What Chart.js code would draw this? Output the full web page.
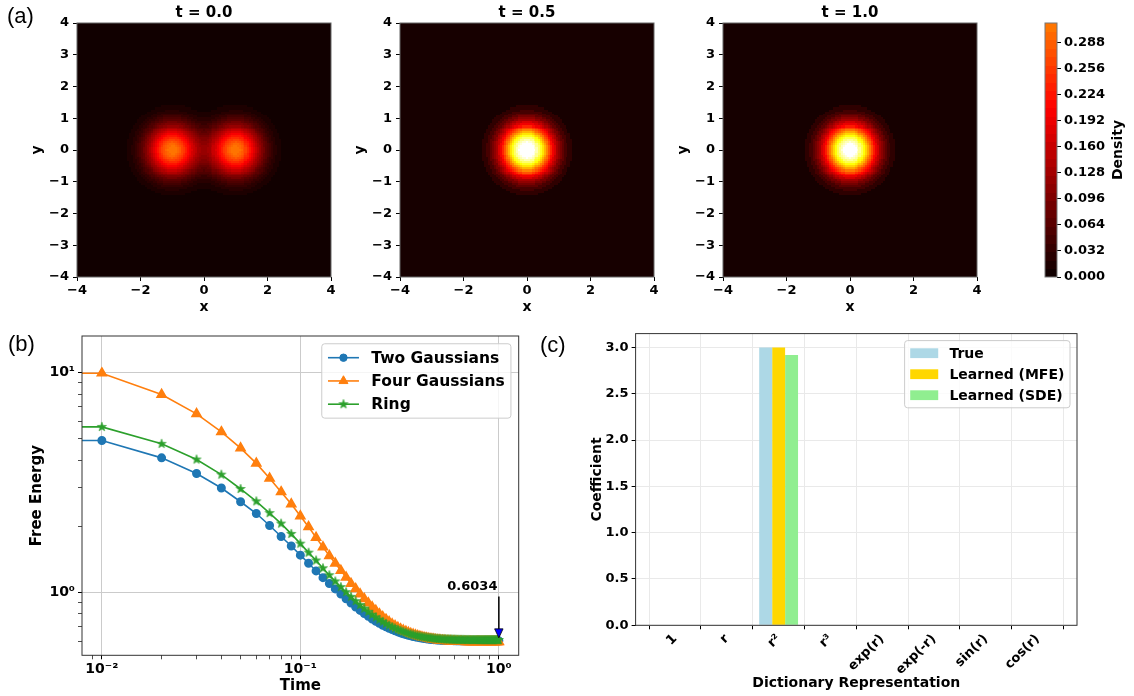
<!DOCTYPE html>
<html>
<head>
<meta charset="utf-8">
<script src="https://cdn.jsdelivr.net/npm/chart.js@4.4.1/dist/chart.umd.min.js"></script>
<style>
  body{margin:0;background:#fff;}
  #fig{position:relative;width:1134px;height:696px;overflow:hidden;background:#fff;}
  #fig canvas{position:absolute;}
  .tag{position:absolute;font:22px "Liberation Sans",Arial,sans-serif;line-height:22px;color:#000;}
</style>
</head>
<body>
<div id="fig">
  <canvas id="heat0" width="343" height="320" style="left:0;top:0"></canvas>
  <canvas id="heat1" width="343" height="320" style="left:323px;top:0"></canvas>
  <canvas id="heat2" width="343" height="320" style="left:646px;top:0"></canvas>
  <canvas id="cbar" width="94" height="320" style="left:1040px;top:0"></canvas>
  <canvas id="energy" width="540" height="376" style="left:0;top:320px"></canvas>
  <canvas id="coef" width="574" height="376" style="left:560px;top:320px"></canvas>
  <div class="tag" style="left:7px;top:5px">(a)</div>
  <div class="tag" style="left:8px;top:333px">(b)</div>
  <div class="tag" style="left:540px;top:334px">(c)</div>
</div>
<script>
// ====== (a) density snapshots ======
// blobs: [cx, cy, sigma, peak density]
const snapshotTitles = ['t = 0.0', 't = 0.5', 't = 1.0'];
const blobsT00 = [[-1, 0, 0.55, 0.312], [1, 0, 0.55, 0.312]];
const blobsT05 = [[0, 0, 0.55, 0.62]];
const blobsT10 = [[0, 0, 0.55, 0.60]];
const heatXTicks = [-4, -2, 0, 2, 4];
const heatYTicks = [-4, -3, -2, -1, 0, 1, 2, 3, 4];
const contourLevels = 30;
const colourTop = 0.57;          // density shown as white
const colorbarMax = 0.3126;
const colorbarTicks = [0, 0.032, 0.064, 0.096, 0.128, 0.160, 0.192, 0.224, 0.256, 0.288];

// ====== (b) free energy ======
const times = [
  0.00, 0.01, 0.02, 0.03, 0.04, 0.05, 0.06, 0.07, 0.08, 0.09,
  0.10, 0.11, 0.12, 0.13, 0.14, 0.15, 0.16, 0.17, 0.18, 0.19,
  0.20, 0.21, 0.22, 0.23, 0.24, 0.25, 0.26, 0.27, 0.28, 0.29,
  0.30, 0.31, 0.32, 0.33, 0.34, 0.35, 0.36, 0.37, 0.38, 0.39,
  0.40, 0.41, 0.42, 0.43, 0.44, 0.45, 0.46, 0.47, 0.48, 0.49,
  0.50, 0.51, 0.52, 0.53, 0.54, 0.55, 0.56, 0.57, 0.58, 0.59,
  0.60, 0.61, 0.62, 0.63, 0.64, 0.65, 0.66, 0.67, 0.68, 0.69,
  0.70, 0.71, 0.72, 0.73, 0.74, 0.75, 0.76, 0.77, 0.78, 0.79,
  0.80, 0.81, 0.82, 0.83, 0.84, 0.85, 0.86, 0.87, 0.88, 0.89,
  0.90, 0.91, 0.92, 0.93, 0.94, 0.95, 0.96, 0.97, 0.98, 0.99,
  1.00
];
const twoGaussians = [
  4.92, 4.92, 4.10, 3.48, 2.99, 2.59, 2.29, 2.02, 1.80, 1.63,
  1.48, 1.36, 1.255, 1.17, 1.10, 1.04, 0.985, 0.937, 0.896, 0.86,
  0.83, 0.803, 0.78, 0.759, 0.741, 0.725, 0.711, 0.699, 0.688, 0.679,
  0.67, 0.663, 0.656, 0.65, 0.645, 0.64, 0.636, 0.632, 0.629, 0.626,
  0.623, 0.621, 0.619, 0.617, 0.615, 0.614, 0.612, 0.611, 0.61, 0.609,
  0.6085, 0.608, 0.6075, 0.607, 0.6065, 0.606, 0.6057, 0.6054, 0.6051, 0.6049,
  0.6047, 0.6045, 0.6044, 0.6042, 0.6041, 0.604, 0.6039, 0.6038, 0.6038, 0.6037,
  0.6037, 0.6036, 0.6036, 0.6036, 0.6036, 0.6035, 0.6035, 0.6035, 0.6035, 0.6035,
  0.6035, 0.6035, 0.6034, 0.6034, 0.6034, 0.6034, 0.6034, 0.6034, 0.6034, 0.6034,
  0.6034, 0.6034, 0.6034, 0.6034, 0.6034, 0.6034, 0.6034, 0.6034, 0.6034, 0.6034,
  0.6034
];
const fourGaussians = [
  9.95, 9.95, 7.96, 6.50, 5.38, 4.54, 3.87, 3.31, 2.87, 2.53,
  2.23, 1.99, 1.78, 1.61, 1.47, 1.36, 1.26, 1.175, 1.10, 1.04,
  0.985, 0.938, 0.896, 0.86, 0.828, 0.80, 0.776, 0.755, 0.736, 0.72,
  0.706, 0.694, 0.683, 0.674, 0.666, 0.658, 0.652, 0.646, 0.641, 0.636,
  0.632, 0.628, 0.625, 0.622, 0.619, 0.617, 0.615, 0.613, 0.611, 0.609,
  0.608, 0.607, 0.606, 0.605, 0.604, 0.603, 0.6023, 0.6016, 0.601, 0.6005,
  0.600, 0.5996, 0.5993, 0.599, 0.5987, 0.5985, 0.5983, 0.5981, 0.598, 0.5979,
  0.5978, 0.5977, 0.5976, 0.5975, 0.5975, 0.5974, 0.5974, 0.5973, 0.5973, 0.5972,
  0.5972, 0.5972, 0.5971, 0.5971, 0.5971, 0.5971, 0.5971, 0.5971, 0.5971, 0.5971,
  0.5971, 0.5971, 0.597, 0.597, 0.597, 0.597, 0.597, 0.597, 0.597, 0.597,
  0.597
];
const ring = [
  5.67, 5.67, 4.75, 4.03, 3.44, 2.96, 2.60, 2.30, 2.06, 1.85,
  1.67, 1.52, 1.40, 1.29, 1.20, 1.125, 1.06, 1.005, 0.957, 0.915,
  0.878, 0.846, 0.818, 0.793, 0.772, 0.753, 0.737, 0.722, 0.709, 0.698,
  0.688, 0.679, 0.671, 0.664, 0.658, 0.652, 0.647, 0.643, 0.639, 0.636,
  0.633, 0.63, 0.628, 0.626, 0.624, 0.622, 0.621, 0.619, 0.618, 0.617,
  0.616, 0.615, 0.6145, 0.614, 0.6135, 0.613, 0.6126, 0.6122, 0.6118, 0.6115,
  0.6112, 0.611, 0.6107, 0.6105, 0.6103, 0.6101, 0.61, 0.6098, 0.6097, 0.6096,
  0.6095, 0.6094, 0.6093, 0.6092, 0.6092, 0.6091, 0.6091, 0.609, 0.609, 0.609,
  0.6089, 0.6089, 0.6089, 0.6089, 0.6089, 0.6089, 0.6089, 0.6089, 0.6089, 0.6089,
  0.6089, 0.6089, 0.6088, 0.6088, 0.6088, 0.6088, 0.6088, 0.6088, 0.6088, 0.6088,
  0.6088
];
const timeMajor = [0.01, 0.1, 1];
const timeMajorLabels = ['10\u207B\u00B2', '10\u207B\u00B9', '10\u2070'];
const timeMinor = [0.009, 0.02, 0.03, 0.04, 0.05, 0.06, 0.07, 0.08, 0.09, 0.2, 0.3, 0.4, 0.5, 0.6, 0.7, 0.8, 0.9];
const energyMajor = [1, 10];
const energyMajorLabels = ['10\u2070', '10\u00B9'];
const energyMinor = [0.6, 0.7, 0.8, 0.9, 2, 3, 4, 5, 6, 7, 8, 9];
const finalTime = 1.0;
const finalEnergy = 0.6034;
const arrowTailEnergy = 0.96;
const noteEnergy = 1.03;
const LOG_CLIP = 1e-300; // t = 0 is clipped on the log axis, like matplotlib does

// ====== (c) dictionary coefficients ======
const dictTerms = ['1', 'r', 'r\u00B2', 'r\u00B3', 'exp(r)', 'exp(-r)', 'sin(r)', 'cos(r)'];
const coefTrue = [0, 0, 3.0, 0, 0, 0, 0, 0];
const coefMFE  = [0, 0, 3.0, 0, 0, 0, 0, 0];
const coefSDE  = [0, 0, 2.92, 0, 0, 0, 0, 0];
const coefTicks = [0, 0.5, 1.0, 1.5, 2.0, 2.5, 3.0];

// ---------- common ----------
const FONT = '"DejaVu Sans", sans-serif';
Chart.defaults.font.family = FONT;
Chart.defaults.font.weight = 'bold';
Chart.defaults.color = '#000';

function hot(v){
  v = Math.max(0, Math.min(1, v));
  const r = Math.min(1, 0.0416 + v * (1 - 0.0416) / 0.365079);
  const g = Math.max(0, Math.min(1, (v - 0.365079) / (0.746032 - 0.365079)));
  const b = Math.max(0, Math.min(1, (v - 0.746032) / (1 - 0.746032)));
  return `rgb(${Math.round(r*255)},${Math.round(g*255)},${Math.round(b*255)})`;
}
const minusFmt = (v) => v < 0 ? '\u2212' + (-v) : String(v);
const setTicks = (list) => (scale) => { scale.ticks = list.map(v => ({value: v})); };

// ---------- plugins ----------
const heatCells = {
  id: 'heatCells',
  beforeDatasetsDraw(chart, args, o){
    const {ctx, chartArea: a, scales: {x, y}} = chart;
    const n = o.cells, dx = (x.max - x.min) / n, dy = (y.max - y.min) / n;
    const vals = [];
    let top = 0;
    for(let j = 0; j < n; j++) for(let i = 0; i < n; i++){
      const cx = x.min + (i + 0.5) * dx, cy = y.min + (j + 0.5) * dy;
      let v = 0;
      o.blobs.forEach(([bx, by, s, p]) => { v += p * Math.exp(-((cx-bx)**2 + (cy-by)**2) / (2*s*s)); });
      vals.push(v); top = Math.max(top, v);
    }
    const step = top / o.levels;
    ctx.save();
    ctx.beginPath(); ctx.rect(a.left, a.top, a.width, a.height); ctx.clip();
    for(let j = 0; j < n; j++) for(let i = 0; i < n; i++){
      const k = Math.min(o.levels - 1, Math.floor(vals[j*n + i] / step));
      ctx.fillStyle = hot((k + 0.5) * step / o.colourTop);
      const x0 = Math.floor(x.getPixelForValue(x.min + i*dx)), x1 = Math.ceil(x.getPixelForValue(x.min + (i+1)*dx));
      const y0 = Math.floor(y.getPixelForValue(y.min + (j+1)*dy)), y1 = Math.ceil(y.getPixelForValue(y.min + j*dy));
      ctx.fillRect(x0, y0, x1 - x0, y1 - y0);
    }
    ctx.restore();
  }
};

const colourBar = {
  id: 'colourBar',
  beforeDatasetsDraw(chart, args, o){
    const {ctx, chartArea: a, scales: {y}} = chart;
    const step = o.max / o.levels;
    ctx.save();
    for(let k = 0; k < o.levels; k++){
      const y0 = Math.floor(y.getPixelForValue((k+1)*step)), y1 = Math.ceil(y.getPixelForValue(k*step));
      ctx.fillStyle = hot((k + 0.5) * step / o.colourTop);
      ctx.fillRect(a.left, y0, a.width, y1 - y0);
    }
    ctx.font = `bold 14px ${FONT}`;
    ctx.fillStyle = '#000'; ctx.textAlign = 'center'; ctx.textBaseline = 'middle';
    ctx.translate(chart.width - 16, (a.top + a.bottom) / 2);
    ctx.rotate(-Math.PI / 2);
    ctx.fillText(o.label, 0, 0);
    ctx.restore();
  }
};

const frame = {
  id: 'frame',
  afterDatasetsDraw(chart, args, o){
    const {ctx, chartArea: a} = chart;
    ctx.save();
    ctx.strokeStyle = o.color || '#333'; ctx.lineWidth = o.width || 1;
    ctx.strokeRect(a.left, a.top, a.width, a.height);
    ctx.restore();
  }
};

const panelTitle = {
  id: 'panelTitle',
  afterDraw(chart, args, o){
    if(!o.text) return;
    const {ctx, chartArea: a} = chart;
    ctx.save();
    ctx.font = `bold ${o.size}px ${FONT}`;
    ctx.fillStyle = '#000'; ctx.textAlign = 'center'; ctx.textBaseline = 'alphabetic';
    ctx.fillText(o.text, (a.left + a.right) / 2, o.y);
    ctx.restore();
  }
};

function drawMarker(ctx, ds, x, y){
  ctx.fillStyle = ds.pointBackgroundColor || ds.borderColor;
  ctx.strokeStyle = ds.pointBorderColor || ds.borderColor;
  ctx.lineWidth = 1;
  Chart.helpers.drawPoint(ctx, {pointStyle: ds.pointStyle, radius: ds.legendRadius, borderWidth: 1, rotation: 0}, x, y);
}

// matplotlib-like "upper right" legend
const mplLegend = {
  id: 'mplLegend',
  afterDraw(chart, args, o){
    const {ctx, chartArea: a} = chart;
    const em = o.fontSize, pad = 0.4*em, handle = 2*em, gap = 0.8*em, rowGap = 0.5*em;
    const items = chart.data.datasets;
    ctx.save();
    ctx.font = `bold ${em}px ${FONT}`;
    const textW = Math.max(...items.map(d => ctx.measureText(d.label).width));
    const w = 2*pad + handle + gap + textW;
    const h = 2*pad + items.length*em + (items.length - 1)*rowGap;
    const x0 = a.right - 0.5*em - w, y0 = a.top + 0.5*em;
    ctx.beginPath(); ctx.roundRect(x0, y0, w, h, 3);
    ctx.fillStyle = 'rgba(255,255,255,0.8)'; ctx.fill();
    ctx.strokeStyle = '#cccccc'; ctx.lineWidth = 1; ctx.stroke();
    items.forEach((ds, i) => {
      const cy = y0 + pad + em/2 + i*(em + rowGap);
      const hx = x0 + pad;
      if(o.kind === 'line'){
        ctx.strokeStyle = ds.borderColor; ctx.lineWidth = ds.borderWidth;
        ctx.beginPath(); ctx.moveTo(hx, cy); ctx.lineTo(hx + handle, cy); ctx.stroke();
        drawMarker(ctx, ds, hx + handle/2, cy);
      } else {
        ctx.fillStyle = ds.backgroundColor;
        ctx.fillRect(hx, cy - 0.35*em, handle, 0.7*em);
      }
      ctx.fillStyle = '#000'; ctx.textAlign = 'left'; ctx.textBaseline = 'middle';
      ctx.fillText(ds.label, hx + handle + gap, cy + 1);
    });
    ctx.restore();
  }
};

const arrowNote = {
  id: 'arrowNote',
  afterDatasetsDraw(chart, args, o){
    const {ctx, scales: {x, y}} = chart;
    const ax = x.getPixelForValue(o.time);
    const tip = y.getPixelForValue(o.value) - 3;
    const tail = y.getPixelForValue(o.tailValue);
    ctx.save();
    ctx.strokeStyle = '#000'; ctx.lineWidth = 1.5;
    ctx.beginPath(); ctx.moveTo(ax, tail); ctx.lineTo(ax, tip - 8); ctx.stroke();
    ctx.beginPath(); ctx.moveTo(ax - 4.2, tip - 9); ctx.lineTo(ax + 4.2, tip - 9); ctx.lineTo(ax, tip); ctx.closePath();
    ctx.fillStyle = '#0000ff'; ctx.fill();
    ctx.lineWidth = 0.8; ctx.stroke();
    ctx.font = `bold 13px ${FONT}`;
    ctx.fillStyle = '#000'; ctx.textAlign = 'right'; ctx.textBaseline = 'alphabetic';
    ctx.fillText(o.text, ax - 1.4, y.getPixelForValue(o.textValue));
    ctx.restore();
  }
};

function starMarker(colour, r){
  const c = document.createElement('canvas');
  c.width = c.height = Math.ceil(2*r + 2);
  const g = c.getContext('2d'), m = c.width / 2;
  g.beginPath();
  for(let k = 0; k < 10; k++){
    const rr = k % 2 ? r*0.4 : r;
    const ang = -Math.PI/2 + k*Math.PI/5;
    g.lineTo(m + rr*Math.cos(ang), m + rr*Math.sin(ang));
  }
  g.closePath();
  g.fillStyle = colour; g.fill();
  g.strokeStyle = colour; g.lineWidth = 0.6; g.stroke();
  return c;
}

// ---------- (a) heatmaps ----------
function heatChart(id, blobs, title){
  return new Chart(document.getElementById(id), {
    type: 'scatter',
    data: { datasets: [] },
    options: {
      responsive: false, animation: false, devicePixelRatio: 1, events: [],
      layout: { padding: { top: 23, right: 12, bottom: 0, left: 0 } },
      plugins: {
        legend: { display: false }, tooltip: { enabled: false },
        heatCells: { blobs, cells: 127, levels: contourLevels, colourTop },
        panelTitle: { text: title, size: 15, y: 17 },
        frame: { color: '#666', width: 1 }
      },
      scales: {
        x: {
          type: 'linear', min: -4, max: 4,
          afterBuildTicks: setTicks(heatXTicks),
          afterFit: (s) => { s.height = 43; },
          border: { display: false },
          grid: { drawOnChartArea: false, tickLength: 4, tickColor: '#000' },
          ticks: { font: { size: 13, weight: 'bold' }, padding: 2, maxRotation: 0, autoSkip: false, callback: minusFmt },
          title: { display: true, text: 'x', font: { size: 14, weight: 'bold' }, padding: { top: 0, bottom: 4 } }
        },
        y: {
          type: 'linear', min: -4, max: 4,
          afterBuildTicks: setTicks(heatYTicks),
          afterFit: (s) => { s.width = 77; },
          border: { display: false },
          grid: { drawOnChartArea: false, tickLength: 4, tickColor: '#000' },
          ticks: { font: { size: 13, weight: 'bold' }, padding: 4, autoSkip: false, callback: minusFmt },
          title: { display: true, text: 'y', font: { size: 14, weight: 'bold' }, padding: { top: 29, bottom: 0 } }
        }
      }
    },
    plugins: [heatCells, panelTitle, frame]
  });
}
heatChart('heat0', blobsT00, snapshotTitles[0]);
heatChart('heat1', blobsT05, snapshotTitles[1]);
heatChart('heat2', blobsT10, snapshotTitles[2]);

new Chart(document.getElementById('cbar'), {
  type: 'scatter',
  data: { datasets: [] },
  options: {
    responsive: false, animation: false, devicePixelRatio: 1, events: [],
    layout: { padding: { top: 23, right: 0, bottom: 43, left: 5 } },
    plugins: {
      legend: { display: false }, tooltip: { enabled: false },
      colourBar: { max: colorbarMax, levels: contourLevels, colourTop, label: 'Density' },
      frame: { color: '#777', width: 1 }
    },
    scales: {
      x: { type: 'linear', display: false, min: 0, max: 1 },
      y: {
        type: 'linear', position: 'right', min: 0, max: colorbarMax,
        afterBuildTicks: setTicks(colorbarTicks),
        afterFit: (s) => { s.width = 77; },
        border: { display: false },
        grid: { drawOnChartArea: false, tickLength: 4, tickColor: '#000' },
        ticks: { font: { size: 13, weight: 'bold' }, padding: 3, autoSkip: false, callback: (v) => v.toFixed(3) }
      }
    }
  },
  plugins: [colourBar, frame]
});

// ---------- (b) free energy ----------
const toPoints = (vals) => times.map((t, i) => ({ x: t > 0 ? t : LOG_CLIP, y: vals[i] }));
const hideFirst = (r) => (c) => c.dataIndex === 0 ? 0 : r;
const isIn = (list) => (c) => !!c.tick && list.includes(c.tick.value);

new Chart(document.getElementById('energy'), {
  type: 'line',
  data: {
    datasets: [
      { label: 'Two Gaussians', data: toPoints(twoGaussians), borderColor: '#1f77b4', backgroundColor: '#1f77b4',
        borderWidth: 1.6, pointStyle: 'circle', pointRadius: hideFirst(3.7), legendRadius: 3.7, order: 3 },
      { label: 'Four Gaussians', data: toPoints(fourGaussians), borderColor: '#ff7f0e', backgroundColor: '#ff7f0e',
        borderWidth: 1.6, pointStyle: 'triangle', pointRadius: hideFirst(5.2), legendRadius: 5.2, order: 2 },
      { label: 'Ring', data: toPoints(ring), borderColor: '#2ca02c', backgroundColor: '#2ca02c',
        borderWidth: 1.6, pointStyle: starMarker('#2ca02c', 4.8), pointRadius: hideFirst(4), legendRadius: 4, order: 1 }
    ]
  },
  options: {
    responsive: false, animation: false, devicePixelRatio: 1, events: [],
    elements: { line: { tension: 0 }, point: { borderWidth: 1 } },
    layout: { padding: { top: 16, right: 21.3, bottom: 0, left: 0 } },
    plugins: {
      legend: { display: false }, tooltip: { enabled: false },
      mplLegend: { kind: 'line', fontSize: 15.5 },
      arrowNote: { time: finalTime, value: finalEnergy, tailValue: arrowTailEnergy, textValue: noteEnergy, text: String(finalEnergy) },
      frame: { color: '#333', width: 1 }
    },
    scales: {
      x: {
        type: 'logarithmic', min: Math.pow(10, -2.1), max: Math.pow(10, 0.1),
        afterBuildTicks: setTicks([...timeMinor, ...timeMajor].sort((p, q) => p - q)),
        afterFit: (s) => { s.height = 40.7; },
        border: { display: false },
        grid: { color: (c) => isIn(timeMajor)(c) ? '#cbcbcb' : 'rgba(0,0,0,0)', tickLength: 4, tickColor: '#000',
                tickWidth: (c) => isIn(timeMajor)(c) ? 1 : 0.7 },
        ticks: { font: { size: 14, weight: 'bold' }, padding: 2, maxRotation: 0, autoSkip: false,
                 callback: (v) => { const i = timeMajor.indexOf(v); return i < 0 ? '' : timeMajorLabels[i]; } },
        title: { display: true, text: 'Time', font: { size: 15, weight: 'bold' }, padding: { top: 0, bottom: 1 } }
      },
      y: {
        type: 'logarithmic', min: Math.pow(10, -0.285), max: Math.pow(10, 1.167),
        afterBuildTicks: setTicks([...energyMinor, ...energyMajor].sort((p, q) => p - q)),
        afterFit: (s) => { s.width = 82; },
        border: { display: false },
        grid: { color: (c) => isIn(energyMajor)(c) ? '#cbcbcb' : 'rgba(0,0,0,0)', tickLength: 4, tickColor: '#000',
                tickWidth: (c) => isIn(energyMajor)(c) ? 1 : 0.7 },
        ticks: { font: { size: 14, weight: 'bold' }, padding: 3, autoSkip: false,
                 callback: (v) => { const i = energyMajor.indexOf(v); return i < 0 ? '' : energyMajorLabels[i]; } },
        title: { display: true, text: 'Free Energy', font: { size: 15, weight: 'bold' }, padding: { top: 28, bottom: 0 } }
      }
    }
  },
  plugins: [frame, arrowNote, mplLegend]
});

// ---------- (c) coefficients ----------
const toBars = (vals) => vals.map((v, i) => ({ x: i, y: v }));
new Chart(document.getElementById('coef'), {
  type: 'bar',
  data: {
    datasets: [
      { label: 'True', data: toBars(coefTrue), backgroundColor: '#add8e6' },
      { label: 'Learned (MFE)', data: toBars(coefMFE), backgroundColor: '#ffd700' },
      { label: 'Learned (SDE)', data: toBars(coefSDE), backgroundColor: '#90ee90' }
    ]
  },
  options: {
    responsive: false, animation: false, devicePixelRatio: 1, events: [],
    datasets: { bar: { categoryPercentage: 0.75, barPercentage: 1, borderWidth: 0 } },
    layout: { padding: { top: 13.6, right: 57, bottom: 0, left: 0 } },
    plugins: {
      legend: { display: false }, tooltip: { enabled: false },
      mplLegend: { kind: 'bar', fontSize: 14 },
      frame: { color: '#333', width: 1 }
    },
    scales: {
      x: {
        type: 'linear', min: -0.7625, max: dictTerms.length - 1 + 0.7625, offset: false,
        afterBuildTicks: setTicks(dictTerms.map((t, i) => i)),
        afterFit: (s) => { s.height = 70.7; },
        border: { display: false },
        grid: { color: '#e9e9e9', tickLength: 4, tickColor: '#000' },
        ticks: { font: { size: 13, weight: 'bold' }, padding: 2, minRotation: 45, maxRotation: 45, autoSkip: false,
                 callback: (v) => dictTerms[v] ?? '' },
        title: { display: true, text: 'Dictionary Representation', font: { size: 14, weight: 'bold' }, padding: { top: 0, bottom: 4.3 } }
      },
      y: {
        type: 'linear', min: 0, max: 3.15,
        afterBuildTicks: setTicks(coefTicks),
        afterFit: (s) => { s.width = 75.6; },
        border: { display: false },
        grid: { color: '#e9e9e9', tickLength: 4, tickColor: '#000' },
        ticks: { font: { size: 13, weight: 'bold' }, padding: 3, autoSkip: false, callback: (v) => v.toFixed(1) },
        title: { display: true, text: 'Coefficient', font: { size: 14, weight: 'bold' }, padding: { top: 29.3, bottom: 0 } }
      }
    }
  },
  plugins: [frame, mplLegend]
});
</script>
</body>
</html>
